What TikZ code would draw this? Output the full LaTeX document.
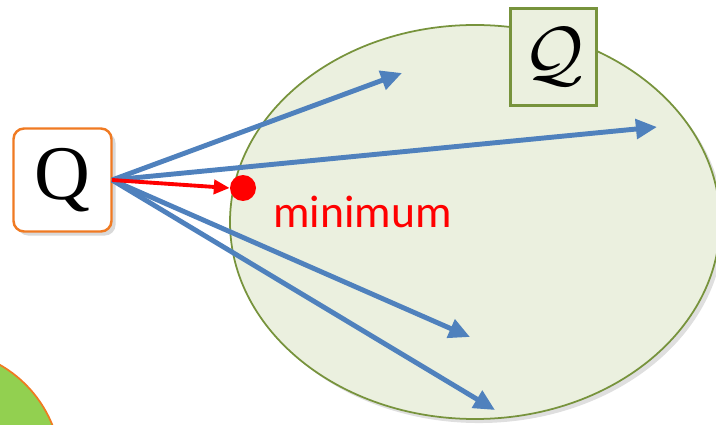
\documentclass[tikz,border=0pt]{standalone}
\usepackage{fontspec}
\setmainfont{Liberation Serif}
\newfontfamily\labelfont{Carlito}
\usetikzlibrary{calc,shadows,arrows.meta}

\definecolor{setfill}{HTML}{EBF0DF}
\definecolor{setline}{HTML}{77933C}
\definecolor{rayblue}{HTML}{4F81BD}
\definecolor{boxorange}{HTML}{F07A22}
\definecolor{blobgreen}{HTML}{92D050}

\begin{document}
\begin{tikzpicture}[x=0.02cm,y=-0.02cm,
  ray/.style={rayblue,line width=2.8pt,-{Triangle[length=12pt,width=11pt]}},
  best/.style={red,line width=2.2pt,-{Triangle[length=9pt,width=8pt]}}]
  \useasboundingbox (0,0) rectangle (716,425);
  \clip (0,0) rectangle (716,425);
  % the set and the blob
  \fill[blobgreen,draw=boxorange,line width=1pt] (-60,470) circle[radius=121];
  \draw[setline,fill=setfill,line width=1pt,drop shadow={opacity=0.25}] (475,222) ellipse[x radius=245,y radius=197];
  \node[draw=setline,fill=setfill,line width=1.2pt,minimum width=1.72cm,minimum height=1.94cm,
        inner sep=0pt] (set) at (553.5,57) {\scalebox{4.2}{$\mathcal{Q}$}};
  \node[draw=boxorange,fill=white,rounded corners=6pt,line width=1.4pt,minimum width=1.96cm,
        minimum height=2.06cm,inner sep=0pt,drop shadow={opacity=0.3},
        font=\fontsize{44}{44}\selectfont] (query) at (62.5,180) {Q};
  \coordinate (src) at (112,180);
  % rays
  \coordinate (r1) at (402,73);
  \coordinate (r2) at (657,127);
  \coordinate (r3) at (470,337);
  \coordinate (r4) at (495,410);
  \foreach \r in {r1,r2,r3,r4}
    \draw[ray] (src) -- (\r);
  \node[circle,fill=red,minimum size=0.52cm,inner sep=0pt] (min) at (243,188) {};
  \draw[best] (src) -- (min.west);
  \node[red,font=\labelfont\fontsize{26}{26}\selectfont,anchor=west] (minlabel) at (267,212) {minimum};
\end{tikzpicture}
\end{document}
